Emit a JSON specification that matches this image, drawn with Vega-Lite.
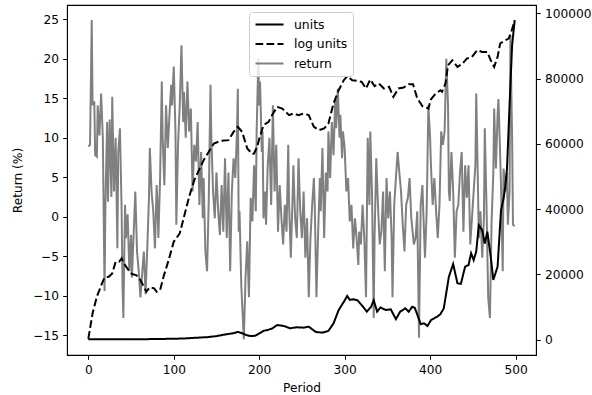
{
  "$schema": "https://vega.github.io/schema/vega-lite/v6.json",
  "autosize": {"type": "none"},
  "padding": {"left": 67, "top": 5, "right": 56, "bottom": 40},
  "width": 469,
  "height": 350,
  "background": "white",
  "config": {
    "view": {"stroke": "black", "strokeWidth": 1.1},
    "axis": {
      "grid": false,
      "labelFont": "DejaVu Sans",
      "labelFontSize": 12.2,
      "labelColor": "black",
      "titleFont": "DejaVu Sans",
      "titleFontSize": 12.2,
      "titleFontWeight": "normal",
      "titleColor": "black",
      "tickColor": "black",
      "tickSize": 4.3,
      "tickWidth": 1,
      "domainColor": "black",
      "domainWidth": 1,
      "labelPadding": 4.3
    },
    "legend": {
      "orient": "none",
      "legendX": 182,
      "legendY": 7,
      "labelFont": "DejaVu Sans",
      "labelFontSize": 12.4,
      "labelColor": "black",
      "symbolType": "stroke",
      "symbolSize": 784,
      "symbolStrokeWidth": 2,
      "clipHeight": 14,
      "labelOffset": 9.5,
      "padding": 5.5,
      "rowPadding": 5.5,
      "fillColor": "rgba(255,255,255,0.8)",
      "strokeColor": "#cccccc",
      "cornerRadius": 3
    }
  },
  "data": {"values": [
    {"series":"return","period":0,"value":8.9},{"series":"return","period":2,"value":9.1},{"series":"return","period":4,"value":24.9},{"series":"return","period":5,"value":14.1},{"series":"return","period":7,"value":14.6},{"series":"return","period":8,"value":7.8},{"series":"return","period":10,"value":7.6},{"series":"return","period":11,"value":14.1},{"series":"return","period":13,"value":10.3},{"series":"return","period":15,"value":15.6},{"series":"return","period":17,"value":9.9},{"series":"return","period":19,"value":-9.4},{"series":"return","period":20,"value":1.5},{"series":"return","period":22,"value":12.0},{"series":"return","period":23,"value":1.9},{"series":"return","period":25,"value":12.3},{"series":"return","period":27,"value":2.5},{"series":"return","period":28,"value":15.2},{"series":"return","period":30,"value":3.2},{"series":"return","period":32,"value":10.0},{"series":"return","period":34,"value":-4.0},{"series":"return","period":35,"value":8.0},{"series":"return","period":37,"value":11.2},{"series":"return","period":39,"value":0.7},{"series":"return","period":40,"value":-8.6},{"series":"return","period":41,"value":-12.8},{"series":"return","period":43,"value":1.5},{"series":"return","period":44,"value":-2.7},{"series":"return","period":46,"value":0.3},{"series":"return","period":48,"value":-6.9},{"series":"return","period":50,"value":-2.3},{"series":"return","period":51,"value":-7.7},{"series":"return","period":53,"value":-2.3},{"series":"return","period":55,"value":3.2},{"series":"return","period":57,"value":-4.4},{"series":"return","period":59,"value":-6.9},{"series":"return","period":61,"value":-10.2},{"series":"return","period":63,"value":-7.3},{"series":"return","period":65,"value":-4.4},{"series":"return","period":67,"value":-9.8},{"series":"return","period":69,"value":-4.0},{"series":"return","period":71,"value":2.4},{"series":"return","period":72,"value":8.7},{"series":"return","period":74,"value":3.2},{"series":"return","period":76,"value":0.7},{"series":"return","period":78,"value":-4.0},{"series":"return","period":80,"value":4.0},{"series":"return","period":81,"value":1.5},{"series":"return","period":82,"value":-2.7},{"series":"return","period":84,"value":4.9},{"series":"return","period":86,"value":17.1},{"series":"return","period":87,"value":10.0},{"series":"return","period":89,"value":4.0},{"series":"return","period":91,"value":14.1},{"series":"return","period":93,"value":8.7},{"series":"return","period":95,"value":12.9},{"series":"return","period":97,"value":16.7},{"series":"return","period":98,"value":14.1},{"series":"return","period":100,"value":19.0},{"series":"return","period":102,"value":10.8},{"series":"return","period":103,"value":-1.0},{"series":"return","period":105,"value":9.1},{"series":"return","period":107,"value":14.1},{"series":"return","period":109,"value":21.7},{"series":"return","period":111,"value":12.0},{"series":"return","period":112,"value":15.8},{"series":"return","period":114,"value":10.0},{"series":"return","period":116,"value":17.1},{"series":"return","period":118,"value":10.8},{"series":"return","period":120,"value":13.7},{"series":"return","period":122,"value":3.2},{"series":"return","period":124,"value":9.1},{"series":"return","period":126,"value":7.0},{"series":"return","period":128,"value":12.0},{"series":"return","period":130,"value":1.5},{"series":"return","period":132,"value":8.2},{"series":"return","period":134,"value":-0.2},{"series":"return","period":135,"value":4.9},{"series":"return","period":137,"value":-4.4},{"series":"return","period":139,"value":-6.9},{"series":"return","period":141,"value":2.4},{"series":"return","period":143,"value":16.7},{"series":"return","period":144,"value":10.0},{"series":"return","period":146,"value":3.2},{"series":"return","period":148,"value":-0.2},{"series":"return","period":150,"value":5.6},{"series":"return","period":152,"value":0.7},{"series":"return","period":154,"value":-2.3},{"series":"return","period":156,"value":4.0},{"series":"return","period":158,"value":-1.9},{"series":"return","period":160,"value":7.4},{"series":"return","period":162,"value":-2.7},{"series":"return","period":164,"value":5.6},{"series":"return","period":166,"value":-6.9},{"series":"return","period":168,"value":3.2},{"series":"return","period":170,"value":7.4},{"series":"return","period":172,"value":4.9},{"series":"return","period":174,"value":10.8},{"series":"return","period":175,"value":16.2},{"series":"return","period":176,"value":-1.9},{"series":"return","period":177,"value":0.7},{"series":"return","period":179,"value":-8.6},{"series":"return","period":182,"value":-15.5},{"series":"return","period":184,"value":-7.7},{"series":"return","period":186,"value":-3.1},{"series":"return","period":188,"value":-10.2},{"series":"return","period":190,"value":2.4},{"series":"return","period":192,"value":-0.6},{"series":"return","period":194,"value":6.5},{"series":"return","period":196,"value":0.7},{"series":"return","period":197,"value":10.8},{"series":"return","period":199,"value":20.0},{"series":"return","period":200,"value":14.1},{"series":"return","period":201,"value":17.1},{"series":"return","period":203,"value":8.2},{"series":"return","period":204,"value":10.8},{"series":"return","period":205,"value":-0.2},{"series":"return","period":207,"value":3.2},{"series":"return","period":208,"value":-1.0},{"series":"return","period":210,"value":6.5},{"series":"return","period":212,"value":10.0},{"series":"return","period":214,"value":1.5},{"series":"return","period":216,"value":14.1},{"series":"return","period":218,"value":3.2},{"series":"return","period":220,"value":9.1},{"series":"return","period":222,"value":-1.9},{"series":"return","period":224,"value":4.0},{"series":"return","period":226,"value":-0.2},{"series":"return","period":228,"value":-3.5},{"series":"return","period":230,"value":1.5},{"series":"return","period":232,"value":-1.9},{"series":"return","period":234,"value":9.1},{"series":"return","period":235,"value":1.5},{"series":"return","period":237,"value":-5.2},{"series":"return","period":239,"value":2.4},{"series":"return","period":240,"value":6.5},{"series":"return","period":242,"value":-0.2},{"series":"return","period":244,"value":-2.7},{"series":"return","period":246,"value":7.4},{"series":"return","period":248,"value":0.7},{"series":"return","period":250,"value":-2.7},{"series":"return","period":252,"value":3.2},{"series":"return","period":254,"value":-5.2},{"series":"return","period":256,"value":-0.2},{"series":"return","period":258,"value":-10.2},{"series":"return","period":260,"value":-2.7},{"series":"return","period":262,"value":1.5},{"series":"return","period":264,"value":4.9},{"series":"return","period":265,"value":1.5},{"series":"return","period":267,"value":-10.2},{"series":"return","period":269,"value":-1.9},{"series":"return","period":271,"value":4.9},{"series":"return","period":272,"value":0.7},{"series":"return","period":274,"value":8.7},{"series":"return","period":276,"value":-2.7},{"series":"return","period":278,"value":5.6},{"series":"return","period":280,"value":3.2},{"series":"return","period":281,"value":10.8},{"series":"return","period":283,"value":4.9},{"series":"return","period":285,"value":12.0},{"series":"return","period":287,"value":7.8},{"series":"return","period":289,"value":14.9},{"series":"return","period":290,"value":11.2},{"series":"return","period":292,"value":16.2},{"series":"return","period":294,"value":10.0},{"series":"return","period":295,"value":12.9},{"series":"return","period":297,"value":7.4},{"series":"return","period":298,"value":10.8},{"series":"return","period":300,"value":8.7},{"series":"return","period":302,"value":3.2},{"series":"return","period":304,"value":4.9},{"series":"return","period":306,"value":-0.6},{"series":"return","period":308,"value":1.5},{"series":"return","period":310,"value":-4.0},{"series":"return","period":312,"value":-0.2},{"series":"return","period":314,"value":-2.7},{"series":"return","period":316,"value":-6.1},{"series":"return","period":317,"value":-1.9},{"series":"return","period":319,"value":-3.5},{"series":"return","period":321,"value":1.5},{"series":"return","period":323,"value":-2.7},{"series":"return","period":325,"value":-10.2},{"series":"return","period":327,"value":10.0},{"series":"return","period":329,"value":1.5},{"series":"return","period":330,"value":10.8},{"series":"return","period":332,"value":3.2},{"series":"return","period":334,"value":-12.8},{"series":"return","period":335,"value":-2.7},{"series":"return","period":337,"value":7.4},{"series":"return","period":339,"value":1.5},{"series":"return","period":341,"value":-3.5},{"series":"return","period":343,"value":-1.9},{"series":"return","period":345,"value":3.2},{"series":"return","period":347,"value":-6.9},{"series":"return","period":349,"value":4.9},{"series":"return","period":351,"value":-0.2},{"series":"return","period":353,"value":3.2},{"series":"return","period":355,"value":-2.7},{"series":"return","period":356,"value":-10.2},{"series":"return","period":358,"value":1.5},{"series":"return","period":360,"value":4.9},{"series":"return","period":362,"value":8.2},{"series":"return","period":364,"value":5.6},{"series":"return","period":366,"value":3.2},{"series":"return","period":368,"value":-1.0},{"series":"return","period":370,"value":-4.4},{"series":"return","period":372,"value":1.5},{"series":"return","period":374,"value":2.4},{"series":"return","period":376,"value":4.9},{"series":"return","period":378,"value":-0.2},{"series":"return","period":381,"value":-3.5},{"series":"return","period":383,"value":-2.7},{"series":"return","period":385,"value":0.7},{"series":"return","period":387,"value":-15.3},{"series":"return","period":389,"value":1.5},{"series":"return","period":391,"value":4.0},{"series":"return","period":392,"value":0.7},{"series":"return","period":394,"value":-5.2},{"series":"return","period":396,"value":0.7},{"series":"return","period":398,"value":14.1},{"series":"return","period":400,"value":10.0},{"series":"return","period":401,"value":6.5},{"series":"return","period":403,"value":1.5},{"series":"return","period":405,"value":4.9},{"series":"return","period":407,"value":0.7},{"series":"return","period":409,"value":-2.7},{"series":"return","period":411,"value":1.5},{"series":"return","period":413,"value":10.8},{"series":"return","period":415,"value":9.1},{"series":"return","period":417,"value":10.8},{"series":"return","period":419,"value":20.0},{"series":"return","period":421,"value":14.1},{"series":"return","period":422,"value":3.2},{"series":"return","period":423,"value":2.0},{"series":"return","period":425,"value":8.2},{"series":"return","period":427,"value":3.2},{"series":"return","period":429,"value":-5.2},{"series":"return","period":431,"value":0.7},{"series":"return","period":433,"value":1.5},{"series":"return","period":435,"value":5.6},{"series":"return","period":437,"value":8.2},{"series":"return","period":439,"value":-1.9},{"series":"return","period":441,"value":6.5},{"series":"return","period":443,"value":2.4},{"series":"return","period":445,"value":6.5},{"series":"return","period":447,"value":-3.5},{"series":"return","period":449,"value":-0.2},{"series":"return","period":451,"value":3.2},{"series":"return","period":453,"value":6.5},{"series":"return","period":454,"value":15.6},{"series":"return","period":456,"value":4.0},{"series":"return","period":457,"value":-2.7},{"series":"return","period":459,"value":0.7},{"series":"return","period":461,"value":-5.2},{"series":"return","period":463,"value":-0.2},{"series":"return","period":464,"value":11.2},{"series":"return","period":466,"value":1.5},{"series":"return","period":468,"value":-10.2},{"series":"return","period":470,"value":-12.8},{"series":"return","period":471,"value":-6.9},{"series":"return","period":472,"value":-0.6},{"series":"return","period":474,"value":5.6},{"series":"return","period":475,"value":13.7},{"series":"return","period":477,"value":6.1},{"series":"return","period":479,"value":12.9},{"series":"return","period":480,"value":14.9},{"series":"return","period":482,"value":7.8},{"series":"return","period":483,"value":4.0},{"series":"return","period":485,"value":-6.9},{"series":"return","period":486,"value":6.1},{"series":"return","period":488,"value":3.2},{"series":"return","period":490,"value":5.6},{"series":"return","period":491,"value":-1.0},{"series":"return","period":493,"value":3.2},{"series":"return","period":494,"value":23.0},{"series":"return","period":496,"value":10.0},{"series":"return","period":497,"value":-1.0},{"series":"return","period":499,"value":-1.2},

    {"series":"units","period":0,"value":100},{"series":"units","period":20,"value":110},{"series":"units","period":40,"value":120},{"series":"units","period":60,"value":150},{"series":"units","period":80,"value":200},{"series":"units","period":100,"value":300},{"series":"units","period":110,"value":350},{"series":"units","period":120,"value":500},{"series":"units","period":130,"value":650},{"series":"units","period":140,"value":800},{"series":"units","period":150,"value":1100},{"series":"units","period":160,"value":1600},{"series":"units","period":170,"value":2000},{"series":"units","period":175,"value":2400},{"series":"units","period":180,"value":2000},{"series":"units","period":185,"value":1400},{"series":"units","period":190,"value":1100},{"series":"units","period":195,"value":1200},{"series":"units","period":200,"value":1900},{"series":"units","period":205,"value":2700},{"series":"units","period":210,"value":3000},{"series":"units","period":215,"value":3400},{"series":"units","period":221,"value":4500},{"series":"units","period":229,"value":4200},{"series":"units","period":236,"value":3500},{"series":"units","period":244,"value":3800},{"series":"units","period":252,"value":3700},{"series":"units","period":258,"value":4000},{"series":"units","period":262,"value":3200},{"series":"units","period":266,"value":2400},{"series":"units","period":274,"value":2150},{"series":"units","period":281,"value":2700},{"series":"units","period":287,"value":5000},{"series":"units","period":293,"value":9100},{"series":"units","period":299,"value":11600},{"series":"units","period":303,"value":13400},{"series":"units","period":306,"value":12200},{"series":"units","period":310,"value":12400},{"series":"units","period":315,"value":12100},{"series":"units","period":320,"value":10600},{"series":"units","period":326,"value":8600},{"series":"units","period":331,"value":10100},{"series":"units","period":334,"value":12100},{"series":"units","period":338,"value":8600},{"series":"units","period":342,"value":9900},{"series":"units","period":348,"value":9100},{"series":"units","period":354,"value":9300},{"series":"units","period":360,"value":6300},{"series":"units","period":365,"value":8600},{"series":"units","period":371,"value":9600},{"series":"units","period":375,"value":8600},{"series":"units","period":379,"value":10100},{"series":"units","period":382,"value":9800},{"series":"units","period":386,"value":7000},{"series":"units","period":389,"value":4800},{"series":"units","period":393,"value":5000},{"series":"units","period":397,"value":4200},{"series":"units","period":401,"value":6000},{"series":"units","period":408,"value":7000},{"series":"units","period":412,"value":7800},{"series":"units","period":416,"value":9600},{"series":"units","period":422,"value":19300},{"series":"units","period":427,"value":23200},{"series":"units","period":432,"value":17300},{"series":"units","period":436,"value":17100},{"series":"units","period":441,"value":22400},{"series":"units","period":445,"value":22900},{"series":"units","period":448,"value":26500},{"series":"units","period":451,"value":24400},{"series":"units","period":454,"value":27000},{"series":"units","period":457,"value":35100},{"series":"units","period":461,"value":33600},{"series":"units","period":464,"value":29500},{"series":"units","period":467,"value":33100},{"series":"units","period":471,"value":25400},{"series":"units","period":474,"value":18300},{"series":"units","period":479,"value":22400},{"series":"units","period":483,"value":39700},{"series":"units","period":486,"value":43300},{"series":"units","period":488,"value":47000},{"series":"units","period":490,"value":52500},{"series":"units","period":493,"value":71900},{"series":"units","period":496,"value":90300},{"series":"units","period":499,"value":97900},

    {"series":"log units","period":0,"value":300},{"series":"log units","period":5,"value":8090},{"series":"log units","period":10,"value":13170},{"series":"log units","period":16,"value":17270},{"series":"log units","period":19,"value":19110},{"series":"log units","period":24,"value":19300},{"series":"log units","period":28,"value":20340},{"series":"log units","period":32,"value":23890},{"series":"log units","period":36,"value":23890},{"series":"log units","period":39,"value":24930},{"series":"log units","period":43,"value":22880},{"series":"log units","period":47,"value":21350},{"series":"log units","period":51,"value":20120},{"series":"log units","period":56,"value":19820},{"series":"log units","period":61,"value":18290},{"series":"log units","period":65,"value":16240},{"series":"log units","period":68,"value":14700},{"series":"log units","period":72,"value":16050},{"series":"log units","period":77,"value":15740},{"series":"log units","period":80,"value":14700},{"series":"log units","period":84,"value":15220},{"series":"log units","period":88,"value":19300},{"series":"log units","period":94,"value":24410},{"series":"log units","period":100,"value":30020},{"series":"log units","period":107,"value":32590},{"series":"log units","period":112,"value":37680},{"series":"log units","period":118,"value":43800},{"series":"log units","period":124,"value":48920},{"series":"log units","period":135,"value":55040},{"series":"log units","period":147,"value":60150},{"series":"log units","period":155,"value":60960},{"series":"log units","period":164,"value":61170},{"series":"log units","period":170,"value":63710},{"series":"log units","period":175,"value":65240},{"series":"log units","period":180,"value":63710},{"series":"log units","period":186,"value":58630},{"series":"log units","period":192,"value":56880},{"series":"log units","period":194,"value":57090},{"series":"log units","period":198,"value":59500},{"series":"log units","period":200,"value":61500},{"series":"log units","period":205,"value":65760},{"series":"log units","period":211,"value":66780},{"series":"log units","period":215,"value":68830},{"series":"log units","period":221,"value":71370},{"series":"log units","period":227,"value":70860},{"series":"log units","period":235,"value":68830},{"series":"log units","period":240,"value":69350},{"series":"log units","period":246,"value":68830},{"series":"log units","period":252,"value":69350},{"series":"log units","period":258,"value":68830},{"series":"log units","period":264,"value":65240},{"series":"log units","period":270,"value":64230},{"series":"log units","period":276,"value":64750},{"series":"log units","period":281,"value":66280},{"series":"log units","period":287,"value":72410},{"series":"log units","period":293,"value":76480},{"series":"log units","period":299,"value":79550},{"series":"log units","period":303,"value":80770},{"series":"log units","period":309,"value":79550},{"series":"log units","period":315,"value":79330},{"series":"log units","period":320,"value":79030},{"series":"log units","period":325,"value":77000},{"series":"log units","period":330,"value":79760},{"series":"log units","period":335,"value":77710},{"series":"log units","period":340,"value":78540},{"series":"log units","period":346,"value":77000},{"series":"log units","period":352,"value":77510},{"series":"log units","period":357,"value":74430},{"series":"log units","period":363,"value":77000},{"series":"log units","period":369,"value":77300},{"series":"log units","period":375,"value":78320},{"series":"log units","period":380,"value":78320},{"series":"log units","period":385,"value":73940},{"series":"log units","period":389,"value":72410},{"series":"log units","period":391,"value":71580},{"series":"log units","period":395,"value":71200},{"series":"log units","period":398,"value":70860},{"series":"log units","period":401,"value":73700},{"series":"log units","period":406,"value":75260},{"series":"log units","period":412,"value":76480},{"series":"log units","period":414,"value":75970},{"series":"log units","period":418,"value":78540},{"series":"log units","period":421,"value":84140},{"series":"log units","period":426,"value":85670},{"series":"log units","period":432,"value":83620},{"series":"log units","period":438,"value":84670},{"series":"log units","period":443,"value":86190},{"series":"log units","period":449,"value":86690},{"series":"log units","period":455,"value":88740},{"series":"log units","period":461,"value":88210},{"series":"log units","period":467,"value":88210},{"series":"log units","period":471,"value":85670},{"series":"log units","period":475,"value":83620},{"series":"log units","period":479,"value":86690},{"series":"log units","period":482,"value":90790},{"series":"log units","period":488,"value":91800},{"series":"log units","period":492,"value":92320},{"series":"log units","period":495,"value":94340},{"series":"log units","period":499,"value":97930}
  ]},
  "encoding": {
    "x": {
      "field": "period", "type": "quantitative",
      "scale": {"domain": [-24.95, 523.95], "nice": false, "zero": false},
      "axis": {"values": [0, 100, 200, 300, 400, 500], "title": "Period", "titlePadding": 6}
    },
    "color": {
      "field": "series", "type": "nominal",
      "scale": {"domain": ["units", "log units", "return"], "range": ["#000000", "#000000", "#808080"]},
      "legend": {"title": null}
    },
    "strokeDash": {
      "field": "series", "type": "nominal",
      "scale": {"domain": ["units", "log units", "return"], "range": [[1, 0], [7.7, 3.3], [1, 0]]},
      "legend": {"title": null}
    }
  },
  "layer": [
    {
      "transform": [{"filter": "datum.series === 'return'"}],
      "mark": {"type": "line", "strokeWidth": 2},
      "encoding": {
        "y": {
          "field": "value", "type": "quantitative",
          "scale": {"domain": [-17.5, 26.8], "nice": false, "zero": false},
          "axis": {"values": [-15, -10, -5, 0, 5, 10, 15, 20, 25], "title": "Return (%)", "titlePadding": 8}
        }
      }
    },
    {
      "transform": [{"filter": "datum.series !== 'return'"}],
      "mark": {"type": "line", "strokeWidth": 2},
      "encoding": {
        "detail": {"field": "series"},
        "y": {
          "field": "value", "type": "quantitative",
          "scale": {"domain": [-4690, 102600], "nice": false, "zero": false},
          "axis": {"orient": "right", "values": [0, 20000, 40000, 60000, 80000, 100000], "format": "d", "title": null}
        }
      }
    }
  ],
  "resolve": {"scale": {"y": "independent"}}
}
